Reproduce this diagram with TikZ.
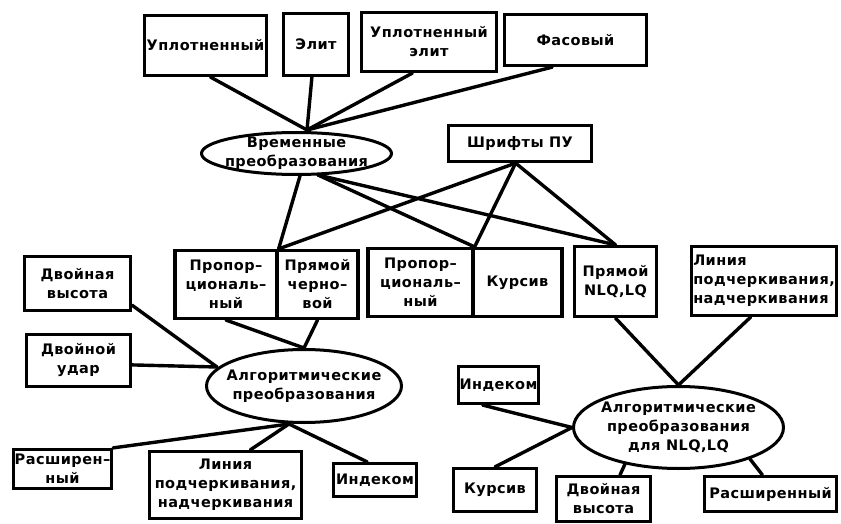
\documentclass[tikz,border=0pt]{standalone}
\usepackage{fontspec}
\setmainfont{DejaVu Sans}[LetterSpace=3]
\usetikzlibrary{shapes.geometric,calc}
\begin{document}
\begin{tikzpicture}[x=1pt,y=-1pt,
  txt/.style={font=\fontsize{14.5}{19}\selectfont\bfseries},
  box/.style={draw, line width=3.2pt, rectangle, inner sep=0pt, align=center, txt},
  oval/.style={draw, ellipse, line width=3pt, inner sep=0pt},
  ovaltext/.style={txt, align=center, inner sep=0pt},
  conn/.style={line width=3.4pt, line cap=round}]
\useasboundingbox[fill=white] (0,0) rectangle (841,524);
% top boxes
\node[box, minimum width=122pt, minimum height=60pt] (upl) at (205.5,45.5) {Уплотненный};
\node[box, minimum width=65pt, minimum height=62pt] (elit) at (316,44.5) {Элит};
\node[box, minimum width=135pt, minimum height=59pt] (uplel) at (429,42) {Уплотненный\\элит};
\node[box, minimum width=142pt, minimum height=51pt] (fas) at (575.5,40) {Фасовый};
% time transforms
\node[oval, minimum width=190pt, minimum height=42pt,
  label={[ovaltext]center:Временные\\преобразования}] (vr) at (296.5,153.5) {};
\node[box, minimum width=143pt, minimum height=36pt] (shpu) at (520,143.5) {Шрифты ПУ};
% font groups
\node[box, minimum width=102pt, minimum height=68pt] (g1a) at (226,284.5) {Пропор–\\циональ–\\ный};
\node[box, minimum width=81pt, minimum height=68pt] (g1b) at (317.5,284.5) {Прямой\\черно–\\вой};
\node[box, minimum width=105pt, minimum height=68pt] (g2a) at (420.5,282.5) {Пропор–\\циональ–\\ный};
\node[box, minimum width=89pt, minimum height=68pt] (g2b) at (517.5,282.5) {Курсив};
\node[box, minimum width=82pt, minimum height=70pt] (pnlq) at (615.5,281.5) {Прямой\\NLQ,LQ};
\node[box, minimum width=145pt, minimum height=69pt, align=left] (lin1) at (764,281) {Линия\\подчеркивания,\\надчеркивания};
% left algorithmic
\node[box, minimum width=106pt, minimum height=54pt] (dv1) at (77.5,283.5) {Двойная\\высота};
\node[box, minimum width=104pt, minimum height=52pt] (du) at (78.5,360.5) {Двойной\\удар};
\node[oval, minimum width=195pt, minimum height=73pt,
  label={[ovaltext]center:Алгоритмические\\преобразования}] (alg1) at (304,386) {};
\node[box, minimum width=98pt, minimum height=39pt] (ras1) at (62.5,469) {Расширен–\\ный};
\node[box, minimum width=152pt, minimum height=67pt] (lin2) at (225.5,485) {Линия\\подчеркивания,\\надчеркивания};
\node[box, minimum width=83pt, minimum height=33pt] (ind1) at (375,480) {Индеком};
% right algorithmic
\node[oval, minimum width=210pt, minimum height=82pt,
  label={[ovaltext]center:Алгоритмические\\преобразования\\для NLQ,LQ}] (alg2) at (678.5,427.5) {};
\node[box, minimum width=80pt, minimum height=37pt] (ind2) at (498.5,385) {Индеком};
\node[box, minimum width=83pt, minimum height=43pt] (kur) at (495,490) {Курсив};
\node[box, minimum width=94pt, minimum height=45pt] (dv2) at (603.5,499) {Двойная\\высота};
\node[box, minimum width=132pt, minimum height=35pt] (ras2) at (770.5,494) {Расширенный};
% junction coordinates
\coordinate (vt) at (307,130);
\coordinate (vb1) at (300,176);
\coordinate (vb2) at (318,175);
\coordinate (sb) at ($(shpu.south west)!0.47!(shpu.south east)$);
\coordinate (a1l) at (217,367);
\coordinate (a1b) at (289,424);
\coordinate (a2b) at (625,464);
\coordinate (a2r) at (750,459);
% connectors top
\draw[conn] ($(upl.south west)!0.54!(upl.south east)$) -- (vt);
\draw[conn] ($(elit.south west)!0.44!(elit.south east)$) -- (vt);
\draw[conn] ($(uplel.south west)!0.38!(uplel.south east)$) -- (vt);
\draw[conn] ($(fas.south west)!0.34!(fas.south east)$) -- (vt);
% time transforms and printer fonts to font groups
\draw[conn] (vb1) -- (g1a.north east);
\draw[conn] (vb2) -- (g2a.north east);
\draw[conn] (vb2) -- (pnlq.north);
\draw[conn] (sb) -- (g1a.north east);
\draw[conn] (sb) -- (g2a.north east);
\draw[conn] (sb) -- (pnlq.north);
% left algorithmic
\draw[conn] (g1a.south) -- (alg1.north);
\draw[conn] (g1b.south) -- (alg1.north);
\draw[conn] ($(dv1.north east)!0.88!(dv1.south east)$) -- (a1l);
\draw[conn] ($(du.north east)!0.58!(du.south east)$) -- (a1l);
\draw[conn] (a1b) -- (ras1.north east);
\draw[conn] (a1b) -- ($(lin2.north west)!0.66!(lin2.north east)$);
\draw[conn] (a1b) -- ($(ind1.north west)!0.41!(ind1.north east)$);
% right algorithmic
\draw[conn] (pnlq.south) -- (alg2.north);
\draw[conn] ($(lin1.south west)!0.41!(lin1.south east)$) -- (alg2.north);
\draw[conn] ($(ind2.south west)!0.31!(ind2.south east)$) -- (alg2.west);
\draw[conn] (kur.north) -- (alg2.west);
\draw[conn] ($(dv2.north west)!0.67!(dv2.north east)$) -- (a2b);
\draw[conn] ($(ras2.north west)!0.44!(ras2.north east)$) -- (a2r);
\end{tikzpicture}
\end{document}
